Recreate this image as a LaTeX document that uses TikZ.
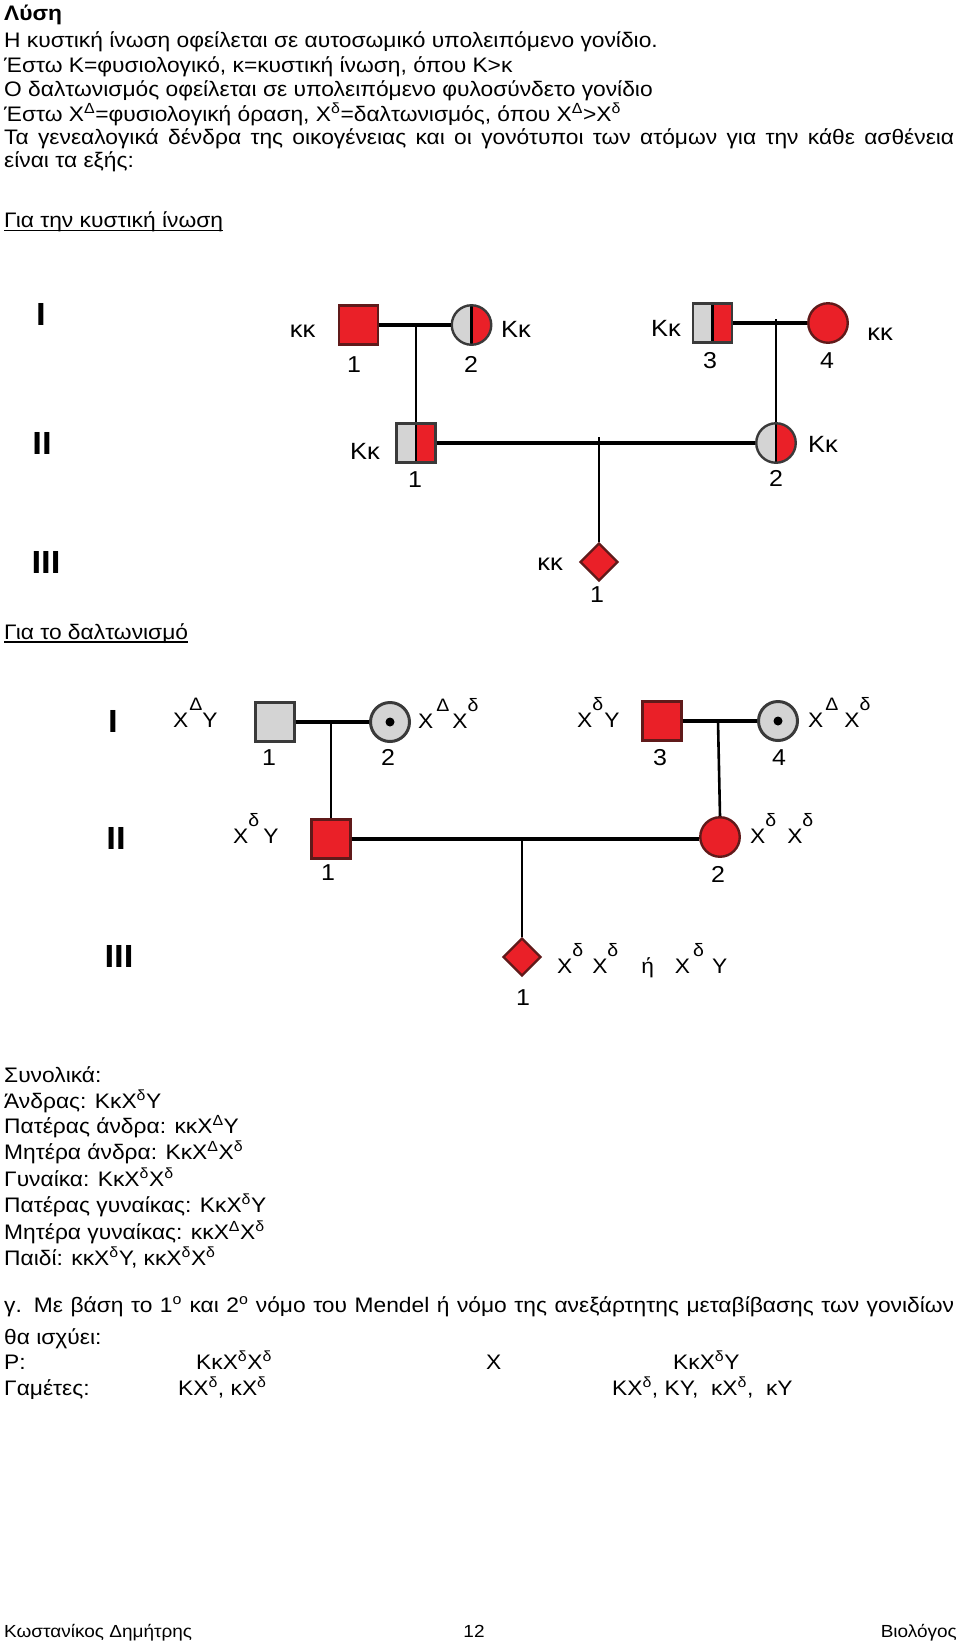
\documentclass[tikz,border=0pt]{standalone}
\usepackage{fontspec}
\setmainfont[FakeStretch=1.085]{Liberation Sans}
\usetikzlibrary{shapes.geometric}
\definecolor{pred}{RGB}{234,32,40}
\definecolor{pborder}{RGB}{96,26,26}
\definecolor{pgray}{RGB}{212,212,212}
\definecolor{gborder}{RGB}{58,58,58}
\newcommand\spx[1]{\textsuperscript{#1}}
\newcommand\pup[1]{\raisebox{17pt}{\fontsize{18}{18}\selectfont #1}}
\begin{document}
\begin{tikzpicture}[x=1pt,y=-1pt,
  txt/.style={anchor=base west, inner sep=0pt, font=\fontsize{21}{24}\selectfont},
  foot/.style={anchor=base west, inner sep=0pt, font=\fontsize{17.5}{20}\selectfont},
  plab/.style={anchor=base west, inner sep=0pt, font=\fontsize{21}{21}\selectfont},
  klab/.style={anchor=base, inner sep=0pt, font=\fontsize{23.5}{23.5}\selectfont},
  num/.style={anchor=base, inner sep=0pt, font=\fontsize{23}{23}\selectfont},
  gen/.style={anchor=center, inner sep=0pt, font=\bfseries\fontsize{32}{32}\selectfont},
  uline/.style={line width=1.4pt},
  sym/.style={line width=2.4pt, inner sep=0pt},
  rsq/.style={sym, rectangle, draw=pborder, fill=pred, minimum size=39pt},
  gsq/.style={sym, rectangle, draw=gborder, fill=pgray, minimum size=39pt},
  halfpic/.style={path picture={
      \fill[pred] (path picture bounding box.north) rectangle (path picture bounding box.south east);
      \draw[black, line width=2.6pt] (path picture bounding box.north) -- (path picture bounding box.south);}},
  hsq/.style={sym, rectangle, draw=gborder, fill=pgray, minimum size=39pt, halfpic},
  rcirc/.style={sym, circle, draw=pborder, fill=pred, minimum size=39.5pt},
  hcirc/.style={sym, circle, draw=gborder, fill=pgray, minimum size=39.5pt, halfpic},
  dcirc/.style={sym, circle, draw=gborder, line width=3pt, fill=pgray, minimum size=39pt,
      path picture={\fill[black] (path picture bounding box.center) circle (4.5pt);}},
  rdia/.style={sym, diamond, draw=pborder, fill=pred, minimum width=38pt, minimum height=38pt},
  hline/.style={line width=3.2pt},
  vline/.style={line width=2.6pt}
]
\fill[white] (0,0) rectangle (960,1644);
\useasboundingbox (0,0) rectangle (960,1644);

% ---------- header text ----------
\node[txt, font=\bfseries\fontsize{21}{24}\selectfont] (t0) at (4,20) {Λύση};
\node[txt] (t1) at (4,47.5) {Η κυστική ίνωση οφείλεται σε αυτοσωμικό υπολειπόμενο γονίδιο.};
\node[txt] (t2) at (4,72) {Έστω Κ=φυσιολογικό, κ=κυστική ίνωση, όπου Κ>κ};
\node[txt] (t3) at (4,96) {Ο δαλτωνισμός οφείλεται σε υπολειπόμενο φυλοσύνδετο γονίδιο};
\node[txt] (t4) at (4,121) {Έστω X\spx{Δ}=φυσιολογική όραση, X\spx{δ}=δαλτωνισμός, όπου X\spx{Δ}>X\spx{δ}};
\node[txt] (t5) at (4,144) {\makebox[950pt][s]{Τα γενεαλογικά δένδρα της οικογένειας και οι γονότυποι των ατόμων για την κάθε ασθένεια}};
\node[txt] (t6) at (4,167.5) {είναι τα εξής:};
\node[txt] (h1) at (4,227.5) {Για την κυστική ίνωση};
\draw[uline] ([yshift=-3pt]h1.base west) -- ([yshift=-3pt]h1.base east);

% ---------- pedigree 1 ----------
\node[gen] (g1a) at (41,314) {I};
\node[gen] (g1b) at (42,443) {II};
\node[gen] (g1c) at (46,562) {III};

\node[rsq]   (a1) at (358.5,325) {};
\node[hcirc] (a2) at (471.5,325) {};
\node[hsq]   (a3) at (712.5,323) {};
\node[rcirc] (a4) at (828,323) {};
\node[hsq]   (b1) at (416,443) {};
\node[hcirc] (b2) at (776,443) {};
\node[rdia]  (c1) at (599,562) {};

\coordinate (ma) at (416,325);
\coordinate (mb) at (776,323);
\coordinate (mc) at (599,443);
\draw[hline] (a1.east) -- (a2.west);
\draw[hline] (a3.east) -- (a4.west);
\draw[hline] (b1.east) -- (b2.west);
\draw[vline] (ma) -- (b1.north);
\draw[vline] ([yshift=4pt]mb) -- (b2.north);
\draw[vline] ([yshift=6pt]mc) -- (c1.north);

\node[klab] (ka1) at (302.5,337) {κκ};
\node[klab] (ka2) at (516,337) {Κκ};
\node[klab] (ka3) at (666,336) {Κκ};
\node[klab] (ka4) at (880,340) {κκ};
\node[klab] (kb1) at (365,459) {Κκ};
\node[klab] (kb2) at (823,452) {Κκ};
\node[klab] (kc1) at (550,570) {κκ};
\node[num] (na1) at (354,372) {1};
\node[num] (na2) at (471,372) {2};
\node[num] (na3) at (710,368) {3};
\node[num] (na4) at (827,368) {4};
\node[num] (nb1) at (415,487) {1};
\node[num] (nb2) at (776,486) {2};
\node[num] (nc1) at (597,602) {1};

% ---------- second header ----------
\node[txt] (h2) at (4,639) {Για το δαλτωνισμό};
\draw[uline] ([yshift=-3pt]h2.base west) -- ([yshift=-3pt]h2.base east);

% ---------- pedigree 2 ----------
\node[gen] (g2a) at (113,721) {I};
\node[gen] (g2b) at (116,838) {II};
\node[gen] (g2c) at (119,956) {III};

\node[gsq]   (d1) at (275,722) {};
\node[dcirc] (d2) at (390,722) {};
\node[rsq]   (d3) at (662,721) {};
\node[dcirc] (d4) at (778,721) {};
\node[rsq]   (e1) at (331,839) {};
\node[rcirc] (e2) at (720,837) {};
\node[rdia]  (f1) at (522,957) {};

\coordinate (md) at (331,722);
\coordinate (me) at (718,721);
\coordinate (mf) at (522,839);
\draw[hline] (d1.east) -- (d2.west);
\draw[hline] (d3.east) -- (d4.west);
\draw[hline] (e1.east) -- (e1.east -| e2.west);
\draw[vline] (md) -- (e1.north);
\draw[vline] (me) -- (e2.north);
\draw[vline] (mf) -- (f1.north);

\node[plab] (ld1) at (173,727) {X\hspace{1pt}\pup{Δ}Y};
\node[plab] (ld2) at (418,728) {X\hspace{3pt}\pup{Δ}\hspace{3pt}X\pup{δ}};
\node[plab] (ld3) at (577,727) {X\pup{δ}\hspace{1pt}Y};
\node[plab] (ld4) at (808,727) {X\hspace{2pt}\pup{Δ}\hspace{6pt}X\pup{δ}};
\node[plab] (le1) at (233,843) {X\pup{δ}\hspace{4pt}Y};
\node[plab] (le2) at (750,843) {X\pup{δ}\hspace{11pt}X\pup{δ}};
\node[plab] (lf1) at (557,973) {X\pup{δ}\hspace{9pt}X\pup{δ}\hspace{23pt}ή\hspace{21pt}X\hspace{3pt}\pup{δ}\hspace{8pt}Y};
\node[num] (nd1) at (269,765) {1};
\node[num] (nd2) at (388,765) {2};
\node[num] (nd3) at (660,765) {3};
\node[num] (nd4) at (779,765) {4};
\node[num] (ne1) at (328,880) {1};
\node[num] (ne2) at (718,882) {2};
\node[num] (nf1) at (523,1005) {1};

% ---------- summary ----------
\node[txt] (s0) at (4,1082.5) {Συνολικά:};
\node[txt] (s1) at (4,1108) {Άνδρας: ΚκX\spx{δ}Y};
\node[txt] (s2) at (4,1133.5) {Πατέρας άνδρα: κκX\spx{Δ}Y};
\node[txt] (s3) at (4,1159) {Μητέρα άνδρα: ΚκX\spx{Δ}X\spx{δ}};
\node[txt] (s4) at (4,1186.5) {Γυναίκα: ΚκX\spx{δ}X\spx{δ}};
\node[txt] (s5) at (4,1212.5) {Πατέρας γυναίκας: ΚκX\spx{δ}Y};
\node[txt] (s6) at (4,1239) {Μητέρα γυναίκας: κκX\spx{Δ}X\spx{δ}};
\node[txt] (s7) at (4,1265.5) {Παιδί: κκX\spx{δ}Y, κκX\spx{δ}X\spx{δ}};
\node[txt] (s8) at (4,1312.5) {\makebox[950pt][s]{γ. Με βάση το 1\spx{ο} και 2\spx{ο} νόμο του Mendel ή νόμο της ανεξάρτητης μεταβίβασης των γονιδίων}};
\node[txt] (s9) at (4,1344) {θα ισχύει:};
\node[txt] (p0) at (4,1369) {P:};
\node[txt] (p1) at (196,1369) {ΚκX\spx{δ}X\spx{δ}};
\node[txt] (p2) at (486,1369) {X};
\node[txt] (p3) at (673,1369) {ΚκX\spx{δ}Y};
\node[txt] (q0) at (4,1395.5) {Γαμέτες:};
\node[txt] (q1) at (178,1395.5) {ΚX\spx{δ}, κX\spx{δ}};
\node[txt] (q2) at (612,1395.5) {ΚX\spx{δ}, ΚY,\ \ κX\spx{δ},\ \ κY};

% ---------- footer ----------
\node[foot] (f0) at (4,1637) {Κωστανίκος Δημήτρης};
\node[foot, anchor=base] (f12) at (474,1637) {12};
\node[foot, anchor=base east] (f2) at (957,1637) {Βιολόγος};
\end{tikzpicture}
\end{document}
